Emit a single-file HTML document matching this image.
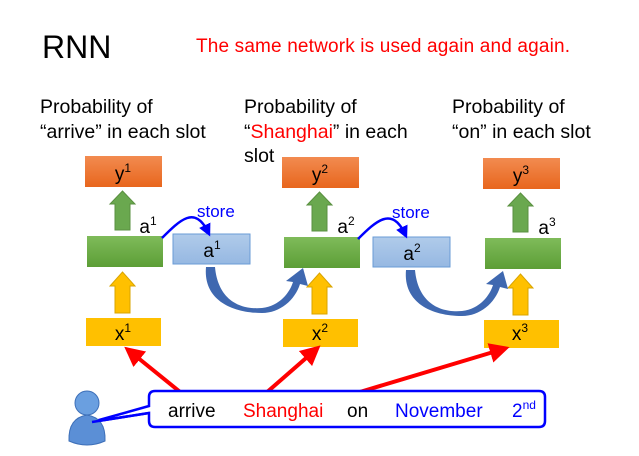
<!DOCTYPE html>
<html><head><meta charset="utf-8"><style>
body{margin:0;background:#fff}
svg{display:block;font-family:"Liberation Sans","DejaVu Sans",sans-serif}
</style></head><body>
<svg width="639" height="456" viewBox="0 0 639 456">
<defs>
<linearGradient id="og" x1="0" y1="0" x2="0" y2="1"><stop offset="0" stop-color="#f28b50"/><stop offset="1" stop-color="#e8661d"/></linearGradient>
<linearGradient id="gg" x1="0" y1="0" x2="0" y2="1"><stop offset="0" stop-color="#7fbb5a"/><stop offset="1" stop-color="#5c9e36"/></linearGradient>
<linearGradient id="bg" x1="0" y1="0" x2="0" y2="1"><stop offset="0" stop-color="#b0cbea"/><stop offset="1" stop-color="#96b8e2"/></linearGradient>
<marker id="rh" markerWidth="5" markerHeight="5" refX="2.5" refY="2.5" orient="auto" markerUnits="strokeWidth"><path d="M0,0L5,2.5L0,5z" fill="#f00"/></marker>
<marker id="bh" markerWidth="5" markerHeight="5" refX="3" refY="2.5" orient="auto" markerUnits="strokeWidth"><path d="M0,0L5,2.5L0,5z" fill="#00f"/></marker>
</defs>
<text x="42" y="58" font-size="32" fill="#000">RNN</text>
<text x="196" y="52" font-size="19" fill="#f00" textLength="374">The same network is used again and again.</text>
<g font-size="19.5" fill="#000">
<text x="40" y="113">Probability of</text>
<text x="40" y="138">“arrive” in each slot</text>
<text x="244" y="113">Probability of</text>
<text x="244" y="138">“<tspan fill="#f00">Shanghai</tspan>” in each</text>
<text x="244" y="162">slot</text>
<text x="452" y="113">Probability of</text>
<text x="452" y="138">“on” in each slot</text>
</g>
<g id="c1">
<rect x="85" y="156" width="77" height="31" fill="url(#og)"/>
<path d="M115,230V204H110L122.5,191L135,204H130V230z" fill="#6aa84f" stroke="#5a9040"/>
<rect x="87" y="236" width="76" height="31" fill="url(#gg)"/>
<path d="M115,313V286H110L122.5,272L135,286H130V313z" fill="#ffc000" stroke="#d9a400"/>
<rect x="86" y="318" width="75" height="28" fill="#ffc000"/>
</g>
<g transform="translate(197,1)"><use href="#c1"/></g>
<g transform="translate(398,2)"><use href="#c1"/></g>
<g font-size="19" fill="#000" text-anchor="middle">
<text x="123" y="180">y<tspan font-size="12" dy="-8">1</tspan></text>
<text x="320" y="181">y<tspan font-size="12" dy="-8">2</tspan></text>
<text x="521" y="182">y<tspan font-size="12" dy="-8">3</tspan></text>
<text x="123" y="340">x<tspan font-size="12" dy="-8">1</tspan></text>
<text x="320" y="340">x<tspan font-size="12" dy="-8">2</tspan></text>
<text x="520" y="340">x<tspan font-size="12" dy="-8">3</tspan></text>
<text x="148" y="233">a<tspan font-size="12" dy="-8">1</tspan></text>
<text x="346" y="233">a<tspan font-size="12" dy="-8">2</tspan></text>
<text x="547" y="234">a<tspan font-size="12" dy="-8">3</tspan></text>
</g>
<rect x="173" y="234" width="77" height="30" fill="url(#bg)" stroke="#6a9bd6"/>
<rect x="373" y="237" width="77" height="30" fill="url(#bg)" stroke="#6a9bd6"/>
<g font-size="19" fill="#000" text-anchor="middle">
<text x="212" y="257">a<tspan font-size="12" dy="-8">1</tspan></text>
<text x="412" y="260">a<tspan font-size="12" dy="-8">2</tspan></text>
</g>
<text x="197" y="217" font-size="17" fill="#00f">store</text>
<text x="392" y="218" font-size="17" fill="#00f">store</text>
<path d="M162,238C180,220 195,205 208,232" fill="none" stroke="#00f" stroke-width="2.5" marker-end="url(#bh)"/>
<path d="M358,239C376,221 392,206 405,234" fill="none" stroke="#00f" stroke-width="2.5" marker-end="url(#bh)"/>
<g id="cu">
<path d="M215,267C218,300 240,310 262,308C280,306 290,292 293,282L286,281L303,268L308,286L300,284C295,300 280,313 262,313C232,313 203,300 206,267z" fill="#3f68b0"/>
</g>
<g transform="translate(200,3)"><use href="#cu"/></g>
<path d="M190,400L132,353" stroke="#f00" stroke-width="4" fill="none" marker-end="url(#rh)"/>
<path d="M258,400L313,352" stroke="#f00" stroke-width="4" fill="none" marker-end="url(#rh)"/>
<path d="M330,401L500,350" stroke="#f00" stroke-width="4" fill="none" marker-end="url(#rh)"/>
<path d="M155,391H539Q545,391 545,397V421Q545,427 539,427H155Q149,427 149,421V413L92,422L149,406V397Q149,391 155,391z" fill="#fff" stroke="#00f" stroke-width="2.5"/>
<g font-size="19">
<text x="168" y="417" fill="#000">arrive</text>
<text x="243" y="417" fill="#f00">Shanghai</text>
<text x="347" y="417" fill="#000">on</text>
<text x="395" y="417" fill="#00f">November</text>
<text x="512" y="417" fill="#00f">2<tspan font-size="12" dy="-8">nd</tspan></text>
</g>
<circle cx="87" cy="403" r="12" fill="#6a9fe0" stroke="#3d6fb8"/>
<path d="M69,441Q68,418 87,415Q106,418 105,441Q87,449 69,441z" fill="#5b8fd6" stroke="#3d6fb8"/>
<path d="M92,422L149,413" stroke="#00f" stroke-width="2.5"/>
</svg>
</body></html>
